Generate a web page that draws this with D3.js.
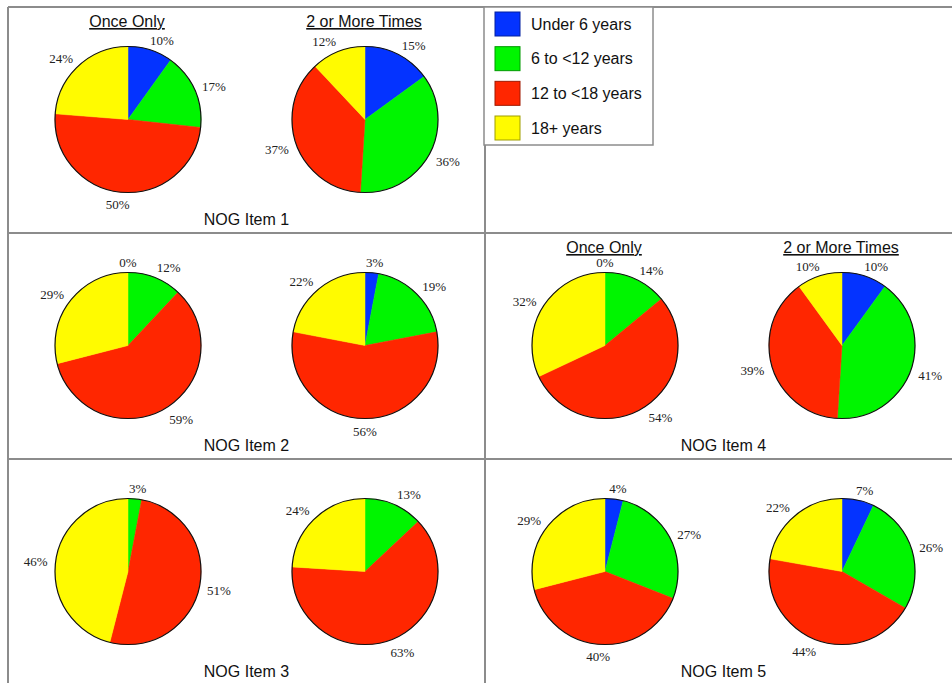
<!DOCTYPE html>
<html>
<head>
<meta charset="utf-8">
<script src="https://cdn.jsdelivr.net/npm/d3@7"></script>
<style>
  html, body { margin: 0; padding: 0; background: #fff; }
  svg { display: block; }
</style>
</head>
<body>
<svg id="chart" width="952" height="683"></svg>
<script>
// ---- Data ----
const categories = ["Under 6 years", "6 to <12 years", "12 to <18 years", "18+ years"];
const colors = ["#0433ff", "#00f500", "#ff2600", "#fffb00"];
const pieTitles = ["Once Only", "2 or More Times"];
const itemNames = ["NOG Item 1", "NOG Item 2", "NOG Item 3", "NOG Item 4", "NOG Item 5"];
// percentages per category (null = category not present / no label)
const item1Once = [10, 17, 50, 24];
const item1More = [15, 36, 37, 12];
const item2Once = [0, 12, 59, 29];
const item2More = [3, 19, 56, 22];
const item3Once = [null, 3, 51, 46];
const item3More = [null, 13, 63, 24];
const item4Once = [0, 14, 54, 32];
const item4More = [10, 41, 39, 10];
const item5Once = [4, 27, 40, 29];
const item5More = [7, 26, 44, 22];

const panels = [
  { name: itemNames[0], once: item1Once, more: item1More, col: 0, row: 0, headers: true },
  { name: itemNames[1], once: item2Once, more: item2More, col: 0, row: 1, headers: false },
  { name: itemNames[2], once: item3Once, more: item3More, col: 0, row: 2, headers: false },
  { name: itemNames[3], once: item4Once, more: item4More, col: 1, row: 1, headers: true },
  { name: itemNames[4], once: item5Once, more: item5More, col: 1, row: 2, headers: false }
];

const svg = d3.select("#chart");
const W = 952, H = 683;
const colX = [8, 485];
const rowY = [7, 233, 459];
const gridColor = "#8c8c8c";
const sans = "'Liberation Sans', Arial, Helvetica, sans-serif";
const serif = "'Liberation Serif', 'Times New Roman', Times, serif";

const color = d3.scaleOrdinal().domain(categories).range(colors);

// ---- Grid ----
const grid = svg.append("g").attr("stroke", gridColor).attr("stroke-width", 2).attr("fill", "none");
grid.append("line").attr("x1", colX[0]).attr("x2", W).attr("y1", rowY[0]).attr("y2", rowY[0]);
grid.append("line").attr("x1", colX[0]).attr("x2", W).attr("y1", rowY[1]).attr("y2", rowY[1]);
grid.append("line").attr("x1", colX[0]).attr("x2", W).attr("y1", rowY[2]).attr("y2", rowY[2]);
grid.append("line").attr("x1", colX[0]).attr("x2", colX[0]).attr("y1", rowY[0]).attr("y2", H);
grid.append("line").attr("x1", colX[1]).attr("x2", colX[1]).attr("y1", rowY[0]).attr("y2", H);

// ---- Pies ----
const R = 73;
const pie = d3.pie().sort(null).value(d => d.v == null ? 0 : d.v);
const arc = d3.arc().innerRadius(0).outerRadius(R);
const cellW = 477;

function drawPie(g, values, cx, cy) {
  const data = values.map((v, i) => ({ v, cat: categories[i] }));
  const arcs = pie(data);
  const pg = g.append("g").attr("transform", `translate(${cx},${cy})`);
  pg.selectAll("path.slice").data(arcs.filter(a => a.data.v > 0)).join("path")
    .attr("class", "slice")
    .attr("d", arc)
    .attr("fill", d => color(d.data.cat))
    .attr("stroke", d => color(d.data.cat))
    .attr("stroke-width", 0.5);
  pg.append("circle").attr("r", R).attr("fill", "none").attr("stroke", "#111").attr("stroke-width", 1.2);

  const lr = R + 8;
  arcs.filter(a => a.data.v != null).forEach(a => {
    const ang = (a.startAngle + a.endAngle) / 2;
    const s = Math.sin(ang), c = Math.cos(ang);
    const px = lr * s, py = -lr * c;
    const t = pg.append("text")
      .attr("font-family", serif)
      .attr("font-size", 13)
      .attr("fill", "#222")
      .attr("text-anchor", "middle")
      .text(a.data.v + "%");
    const w = t.node().getComputedTextLength();
    const f = Math.max(-1, Math.min(1, s * 2.5));
    t.attr("x", px + f * w / 2).attr("y", py + 5.5 - 3.5 * c);
  });
}

panels.forEach(p => {
  const x0 = colX[p.col], y0 = rowY[p.row];
  const g = svg.append("g");
  const cxs = [x0 + 120, x0 + 357];
  const cy = y0 + 112.5;
  drawPie(g, p.once, cxs[0], cy);
  drawPie(g, p.more, cxs[1], cy);
  if (p.headers) {
    pieTitles.forEach((t, i) => {
      g.append("text")
        .attr("x", cxs[i] - 1).attr("y", y0 + 20)
        .attr("text-anchor", "middle")
        .attr("font-family", sans).attr("font-size", 16)
        .attr("fill", "#111")
        .attr("text-decoration", "underline")
        .text(t);
    });
  }
  g.append("text")
    .attr("x", x0 + cellW / 2).attr("y", y0 + 218)
    .attr("text-anchor", "middle")
    .attr("font-family", sans).attr("font-size", 16)
    .attr("fill", "#111")
    .text(p.name);
});

// ---- Legend ----
const lg = svg.append("g");
lg.append("rect").attr("x", 484).attr("y", 7).attr("width", 169).attr("height", 138)
  .attr("fill", "#fff").attr("stroke", gridColor).attr("stroke-width", 1.5);
const ly = d3.scalePoint().domain(categories).range([12, 116]);
categories.forEach(cat => {
  const y = ly(cat);
  lg.append("rect").attr("x", 495).attr("y", y).attr("width", 25).attr("height", 24)
    .attr("fill", color(cat))
    .attr("stroke", d3.color(color(cat)).darker(1.3))
    .attr("stroke-width", 1);
  lg.append("text").attr("x", 531).attr("y", y + 17.5)
    .attr("font-family", sans).attr("font-size", 16).attr("fill", "#111")
    .text(cat);
});
</script>
</body>
</html>
